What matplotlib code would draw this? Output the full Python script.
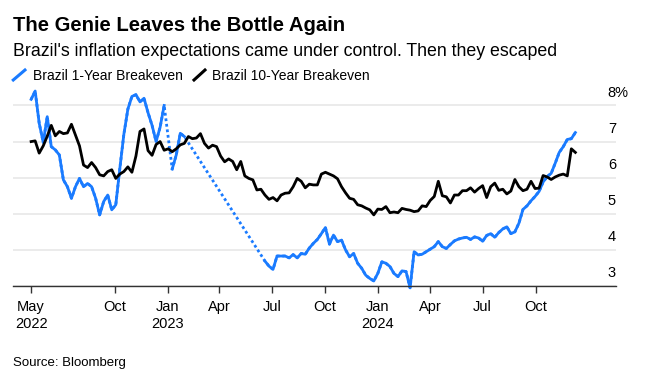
import pandas as pd
import matplotlib.pyplot as plt
from matplotlib.lines import Line2D

plt.rcParams["font.family"] = ["Liberation Sans", "DejaVu Sans"]

# Weekly readings, May 2022 - Dec 2024 (None = no data)
weeks = pd.date_range("2022-05-09", "2024-12-09", freq="7D")

one_year = [
    8.17, 8.40, 7.51, 6.98, 7.69, 6.86, 6.77, 6.63, 5.94, 5.75,
    5.43, 5.75, 5.98, 5.75, 5.84, 5.75, 5.43, 4.97, 5.34, 5.52,
    5.11, 5.25, 6.25, 7.20, 7.90, 8.25, 8.30, 8.10, 8.20, 7.80,
    7.45, 7.00, 7.40, 8.00, None, 6.24, 6.63, 7.23, 7.14, None,
    None, None, None, None, None, None, None, None, None, None,
    None, None, None, None, None, None, None, None, 3.69, 3.55,
    3.46, 3.83, 3.83, 3.83, 3.78, 3.87, 3.78, 3.90, 3.88, 4.05,
    4.18, 4.29, 4.45, 4.62, 4.16, 4.41, 4.23, 4.27, 4.00, 3.81,
    3.90, 3.63, 3.49, 3.30, 3.21, 3.14, 3.35, 3.67, 3.63, 3.54,
    3.35, 3.26, 3.42, 3.40, 2.95, 3.95, 3.86, 3.88, 3.95, 4.02,
    4.09, 4.23, 4.09, 4.04, 4.15, 4.25, 4.30, 4.33, 4.35, 4.29,
    4.36, 4.33, 4.24, 4.40, 4.45, 4.35, 4.48, 4.58, 4.64, 4.45,
    4.50, 4.74, 5.12, 5.22, 5.36, 5.48, 5.62, 5.88, 6.03, 6.12,
    6.40, 6.70, 6.86, 7.06, 7.08, 7.25,
]

ten_year = [
    7.00, 7.02, 6.68, 6.88, 7.15, 7.45, 7.16, 7.28, 7.22, 7.24,
    7.48, 7.18, 6.88, 6.35, 6.28, 6.42, 6.28, 6.08, 6.05, 6.17,
    6.22, 5.98, 6.10, 6.17, 6.30, 6.15, 6.60, 7.28, 7.35, 6.75,
    6.62, 6.92, 7.00, 6.76, 6.80, 6.72, 6.80, 6.91, 6.95, 7.14,
    7.08, 7.10, 7.22, 6.95, 6.82, 6.90, 6.86, 6.60, 6.44, 6.52,
    6.45, 6.22, 6.45, 6.05, 5.98, 5.94, 5.66, 5.68, 5.52, 5.40,
    5.45, 5.36, 5.52, 5.57, 5.58, 5.75, 5.98, 5.90, 5.72, 5.82,
    5.80, 5.80, 6.10, 6.15, 6.10, 6.05, 5.97, 5.75, 5.58, 5.43,
    5.40, 5.25, 5.22, 5.16, 5.11, 4.97, 5.13, 5.12, 5.20, 5.03,
    5.05, 5.03, 5.15, 5.12, 5.10, 5.06, 5.08, 5.22, 5.20, 5.37,
    5.48, 5.90, 5.50, 5.47, 5.30, 5.52, 5.52, 5.64, 5.64, 5.72,
    5.60, 5.70, 5.78, 5.45, 5.75, 5.85, 5.65, 5.68, 5.55, 5.63,
    5.95, 5.75, 5.64, 5.68, 5.90, 5.70, 5.71, 6.06, 6.02, 5.95,
    6.02, 6.07, 6.10, 6.05, 6.80, 6.70,
]

tick_dates = ["2022-05-09", "2022-10-01", "2023-01-01", "2023-04-01", "2023-07-01",
              "2023-10-01", "2024-01-01", "2024-04-01", "2024-07-01", "2024-10-01"]
tick_labels = ["May\n2022", "Oct", "Jan\n2023", "Apr", "Jul",
               "Oct", "Jan\n2024", "Apr", "Jul", "Oct"]
y_ticks = [3, 4, 5, 6, 7, 8]
y_labels = ["3", "4", "5", "6", "7", "8%"]

blue = "#1a7bff"

fig = plt.figure(figsize=(6.57, 3.75), dpi=100)
ax = fig.add_axes([0.0202, 0.2373, 0.9169, 0.5392])

one = pd.Series(one_year, index=weeks, dtype=float)
ten = pd.Series(ten_year, index=weeks, dtype=float)

# dotted line bridges the missing stretches, solid line drawn over it
bridge = one.dropna()
ax.plot(bridge.index, bridge.values, color=blue, lw=2.0, ls=(0, (1.0, 1.0)), clip_on=False)
ax.plot(one.index, one.values, color=blue, lw=2.0, clip_on=False)
ax.plot(ten.index, ten.values, color="black", lw=2.0, clip_on=False)

ax.set_xlim(pd.Timestamp("2022-04-08"), pd.Timestamp("2025-02-17"))
ax.set_ylim(3, 8.6)

for side in ["top", "left", "right"]:
    ax.spines[side].set_visible(False)
ax.spines["bottom"].set_color("#333333")
ax.spines["bottom"].set_linewidth(1.0)

ax.set_yticks(y_ticks)
ax.tick_params(axis="y", length=0, labelleft=False)
ax.yaxis.grid(True, color="#e8e8e8", lw=1.2)
ax.set_axisbelow(True)
for v, lab in zip(y_ticks, y_labels):
    ax.annotate(lab, xy=(0.987, v), xycoords=("axes fraction", "data"),
                xytext=(0, 6.3), textcoords="offset points",
                ha="left", va="baseline", fontsize=10.5, annotation_clip=False)

ax.set_xticks(pd.to_datetime(tick_dates))
ax.set_xticklabels(tick_labels)
ax.tick_params(axis="x", length=5, width=1, color="#333333", pad=5, labelsize=10.5)
for lab in ax.get_xticklabels():
    lab.set_linespacing(1.25)

fig.text(0.0202, 0.918, "The Genie Leaves the Bottle Again",
         fontsize=14.6, fontweight="bold", va="baseline")
fig.text(0.0202, 0.8507, "Brazil's inflation expectations came under control. Then they escaped",
         fontsize=12.8, va="baseline")

# legend
fig.add_artist(Line2D([0.0202, 0.038], [0.7867, 0.8133], color=blue, lw=2.2,
                      transform=fig.transFigure))
fig.text(0.0498, 0.7867, "Brazil 1-Year Breakeven", fontsize=10, va="baseline")
fig.add_artist(Line2D([0.2953, 0.312], [0.7867, 0.8133], color="black", lw=2.2,
                      transform=fig.transFigure))
fig.text(0.3222, 0.7867, "Brazil 10-Year Breakeven", fontsize=10, va="baseline")

fig.text(0.0198, 0.024, "Source: Bloomberg", fontsize=9.5, va="baseline")

fig.savefig("out.png", dpi=100)
